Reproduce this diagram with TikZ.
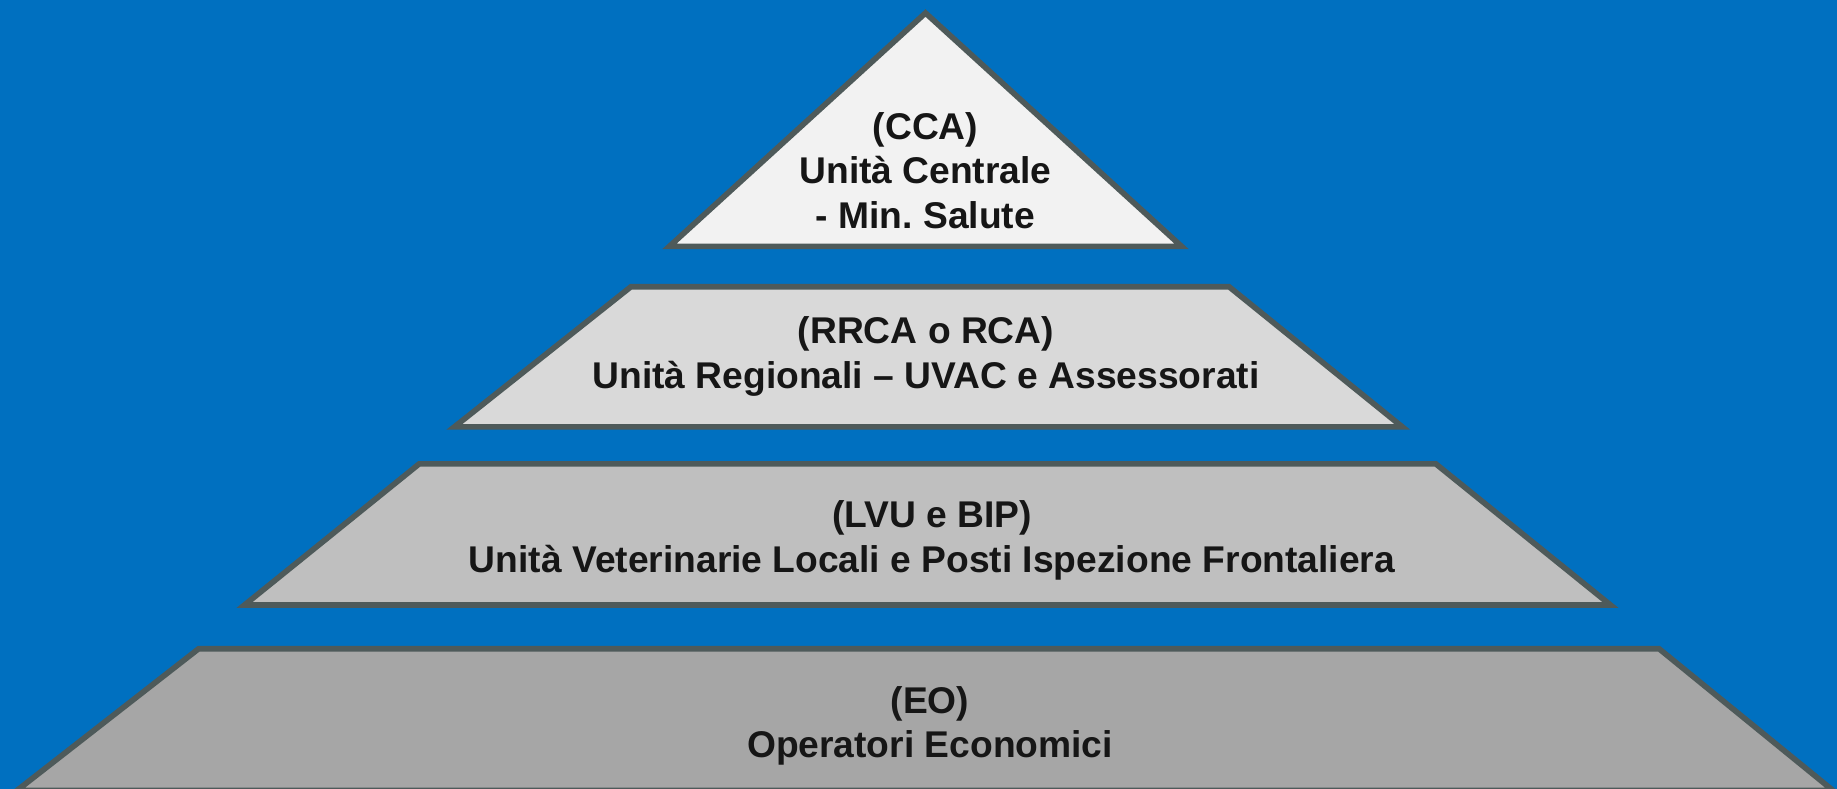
\documentclass[tikz,border=0pt]{standalone}
\usepackage{fontspec}
\setmainfont{Liberation Sans}
\definecolor{bgblue}{RGB}{0,112,192}
\definecolor{edgegray}{RGB}{78,90,90}
\definecolor{tierA}{RGB}{242,242,242}
\definecolor{tierB}{RGB}{217,217,217}
\definecolor{tierC}{RGB}{191,191,191}
\definecolor{tierD}{RGB}{166,166,166}
\definecolor{inkdark}{RGB}{22,22,22}
\tikzset{
  tier/.style={draw=edgegray, line width=5.6pt, line join=miter, miter limit=10},
  tiertext/.style={align=center, text=inkdark, inner sep=0pt,
    font=\fontsize{37.2}{44.5}\selectfont\bfseries\frenchspacing}
}
\begin{document}
\begin{tikzpicture}[x=1pt, y=-1pt]
  \useasboundingbox (0,0) rectangle (1837,789);
  \fill[bgblue] (0,0) rectangle (1837,789);

  % top: central authority
  \filldraw[tier, fill=tierA] (925.5,13) -- (1181.5,246.3) -- (669.5,246.3) -- cycle;
  % regional units
  \filldraw[tier, fill=tierB] (631,286.7) -- (1229,286.7) -- (1402.2,426.8) -- (454.5,426.8) -- cycle;
  % local veterinary units
  \filldraw[tier, fill=tierC] (419.3,463.8) -- (1435.7,463.8) -- (1610.5,605) -- (244.5,605) -- cycle;
  % economic operators
  \filldraw[tier, fill=tierD] (198.7,648.7) -- (1659,648.7) -- (1833,790.5) -- (16.9,790.5) -- cycle;

  \node[tiertext] (cca) at (925.5,170.4) {(CCA)\\Unità Centrale\\- Min. Salute};
  \node[tiertext] (rca) at (926,356.5) {(RRCA o RCA)\\Unità Regionali – UVAC e Assessorati};
  \node[tiertext] (lvu) at (932,540.2) {(LVU e BIP)\\Unità Veterinarie Locali e Posti Ispezione Frontaliera};
  \node[tiertext] (eo) at (930,725.8) {(EO)\\Operatori Economici};
\end{tikzpicture}
\end{document}
